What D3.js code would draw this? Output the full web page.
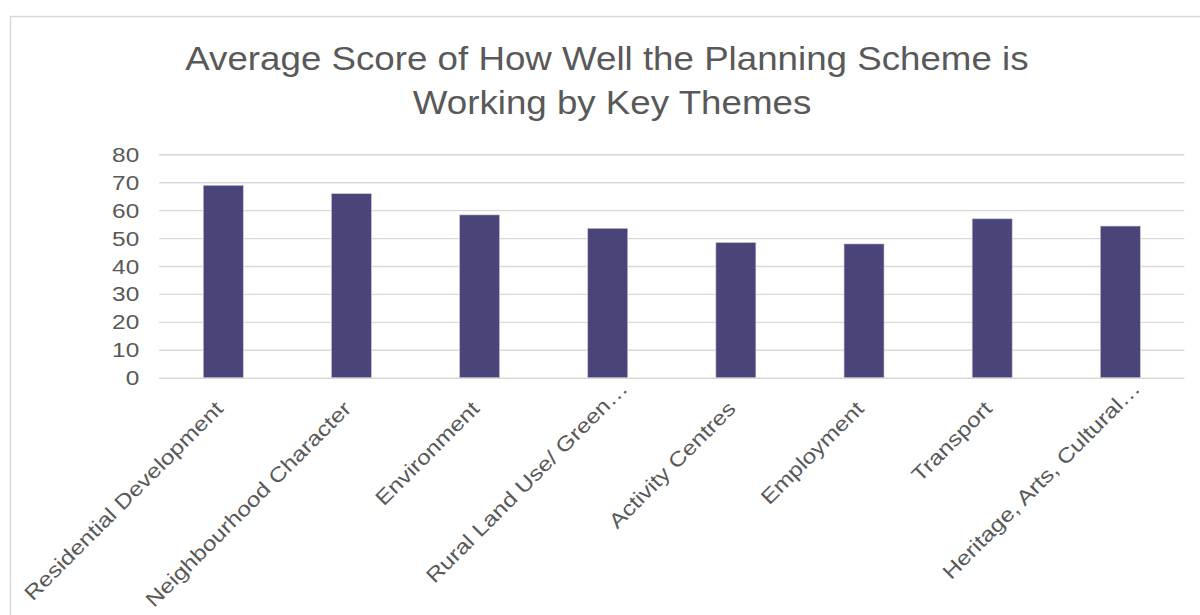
<!DOCTYPE html>
<html>
<head>
<meta charset="utf-8">
<script src="https://cdn.jsdelivr.net/npm/d3@7"></script>
<style>
  html, body { margin: 0; padding: 0; background: #fff; }
  svg { display: block; }
  text { font-family: "Liberation Sans", Arial, sans-serif; fill: #595959; }
</style>
</head>
<body>
<svg id="chart" width="1200" height="615"></svg>
<script>
const categories = [
  "Residential Development",
  "Neighbourhood Character",
  "Environment",
  "Rural Land Use/ Green\u2026",
  "Activity Centres",
  "Employment",
  "Transport",
  "Heritage, Arts, Cultural\u2026"
];
const values = [68.9, 65.9, 58.3, 53.5, 48.4, 47.9, 56.9, 54.3];
const yTicks = [0, 10, 20, 30, 40, 50, 60, 70, 80];
const titleLines = ["Average Score of How Well the Planning Scheme is ", "Working by Key Themes"];

const W = 1200, H = 615;
const sx = 1.19;
const svg = d3.select("#chart");

// outer chart border
svg.append("rect")
  .attr("x", 10.5).attr("y", 16.5)
  .attr("width", 1220).attr("height", 640)
  .attr("fill", "#fff").attr("stroke", "#d9d9d9").attr("stroke-width", 1.5);

const plotL = 159.2, plotR = 1184.4, plotT = 154.3, plotB = 377.7;

const x = d3.scaleBand().domain(categories).range([plotL, plotR])
  .paddingInner(0.688).paddingOuter(0.344);
const y = d3.scaleLinear().domain([0, 80]).range([plotB, plotT]);

// title
svg.append("g").selectAll("text").data(titleLines).join("text")
  .attr("transform", (d, i) => `translate(612,${69.5 + i * 44.7}) scale(1.13,1)`)
  .attr("text-anchor", "middle")
  .style("white-space", "pre")
  .attr("font-size", 32.5)
  .text(d => d);

// gridlines + y labels
const yAxis = svg.append("g")
  .attr("transform", `translate(${plotL},0)`)
  .call(d3.axisLeft(y).tickValues(yTicks).tickSize(-(plotR - plotL)).tickFormat(d3.format("d")));
yAxis.select(".domain").remove();
yAxis.selectAll(".tick line").attr("stroke", "#d9d9d9").attr("stroke-width", 1.4);
yAxis.selectAll(".tick text")
  .attr("x", null).attr("dy", null)
  .attr("transform", `translate(-20,7) scale(${sx},1)`)
  .attr("font-size", 20.5)
  .attr("fill", "#595959")
  .attr("font-family", "Liberation Sans, Arial, sans-serif");

// bars
svg.append("g").selectAll("rect").data(values).join("rect")
  .attr("x", (d, i) => x(categories[i]))
  .attr("width", x.bandwidth())
  .attr("y", d => y(d))
  .attr("height", d => y(0) - y(d))
  .attr("fill", "#4a4579")
  .attr("stroke", "#c9c6dc").attr("stroke-width", 0.6);

// category labels (truncated labels overflow a little further along their baseline)
svg.append("g").selectAll("text").data(categories).join("text")
  .attr("transform", d => `translate(${x(d) + x.bandwidth() / 2 + 1},410) rotate(-45) scale(${sx},1)`)
  .attr("x", d => d.endsWith("\u2026") ? 24 : 0)
  .attr("text-anchor", "end")
  .attr("font-size", 20.5)
  .text(d => d);
</script>
</body>
</html>
